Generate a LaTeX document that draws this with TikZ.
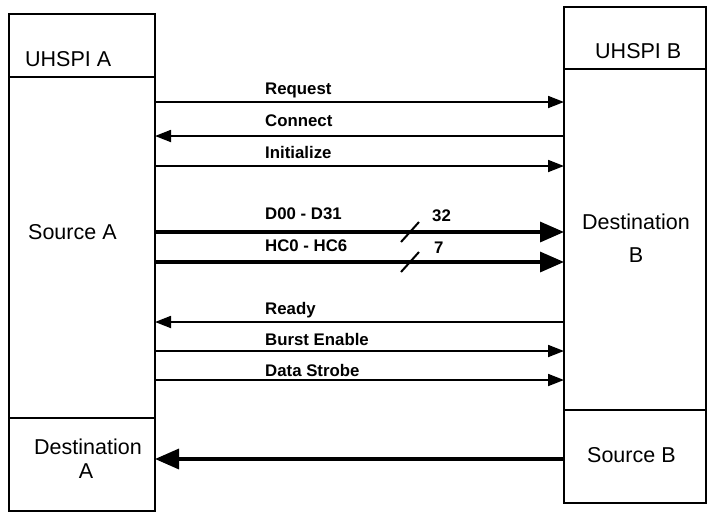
\documentclass[tikz,border=0pt]{standalone}
\usepackage{fontspec}
\setmainfont{Liberation Sans}
\usetikzlibrary{arrows.meta}
\tikzset{
  box/.style={draw, line width=1.6pt, inner sep=0pt, outer sep=0pt, anchor=north west},
  boxlabel/.style={inner sep=0pt, font=\fontsize{21.5}{25}\selectfont},
  siglabel/.style={inner sep=0pt, anchor=base west, font=\fontsize{16.8}{20}\selectfont\bfseries},
  sig/.style={line width=1.8pt, -{Triangle[length=16pt,width=12pt]}},
  bus/.style={line width=3.4pt, -{Triangle[length=24pt,width=20pt]}},
  slash/.style={line width=2pt}
}
\begin{document}
\begin{tikzpicture}[x=1pt,y=-1pt]
\useasboundingbox (0,0) rectangle (713,515);
% left unit
\node[box, minimum width=146pt, minimum height=63pt] (hdrA) at (9,14) {};
\node[box, minimum width=146pt, minimum height=341pt] (srcA) at (9,77) {};
\node[box, minimum width=146pt, minimum height=93pt] (dstA) at (9,418) {};
% right unit
\node[box, minimum width=142pt, minimum height=62pt] (hdrB) at (564,7) {};
\node[box, minimum width=142pt, minimum height=341pt] (dstB) at (564,69) {};
\node[box, minimum width=142pt, minimum height=93pt] (srcB) at (564,410) {};
% box labels
\node[boxlabel, anchor=base west] (tA) at (25,66) {UHSPI A};
\node[boxlabel, anchor=base west] (tB) at (595,58) {UHSPI B};
\node[boxlabel, anchor=base west] (tsA) at (28,239) {Source A};
\node[boxlabel, anchor=base] (tdB1) at (636,229) {Destination};
\node[boxlabel, anchor=base] (tdB2) at (636,262) {B};
\node[boxlabel, anchor=base] (tdA1) at (88,454) {Destination};
\node[boxlabel, anchor=base] (tdA2) at (86,478) {A};
\node[boxlabel, anchor=base west] (tsB) at (587,462) {Source B};
% signals
\draw[sig] (srcA.east |- 0,102) -- (dstB.west |- 0,102);
\draw[sig] (dstB.west |- 0,136) -- (srcA.east |- 0,136);
\draw[sig] (srcA.east |- 0,166) -- (dstB.west |- 0,166);
\draw[bus] (srcA.east |- 0,232) -- (dstB.west |- 0,232);
\draw[bus] (srcA.east |- 0,262) -- (dstB.west |- 0,262);
\draw[sig] (dstB.west |- 0,322) -- (srcA.east |- 0,322);
\draw[sig] (srcA.east |- 0,351) -- (dstB.west |- 0,351);
\draw[sig] (srcA.east |- 0,380) -- (dstB.west |- 0,380);
\draw[bus] (srcB.west |- 0,459) -- (dstA.east |- 0,459);
% bus width slashes
\draw[slash] (401,242) -- (419,222);
\draw[slash] (401,272) -- (419,252);
% signal labels
\node[siglabel] (lreq) at (265,94) {Request};
\node[siglabel] (lcon) at (265,126) {Connect};
\node[siglabel] (lini) at (265,158) {Initialize};
\node[siglabel] (ld) at (265,219) {D00 - D31};
\node[siglabel] (l32) at (432,221) {32};
\node[siglabel] (lhc) at (265,251) {HC0 - HC6};
\node[siglabel] (l7) at (434,253) {7};
\node[siglabel] (lrdy) at (265,314) {Ready};
\node[siglabel] (lbe) at (265,345) {Burst Enable};
\node[siglabel] (lds) at (265,376) {Data Strobe};
\end{tikzpicture}
\end{document}
